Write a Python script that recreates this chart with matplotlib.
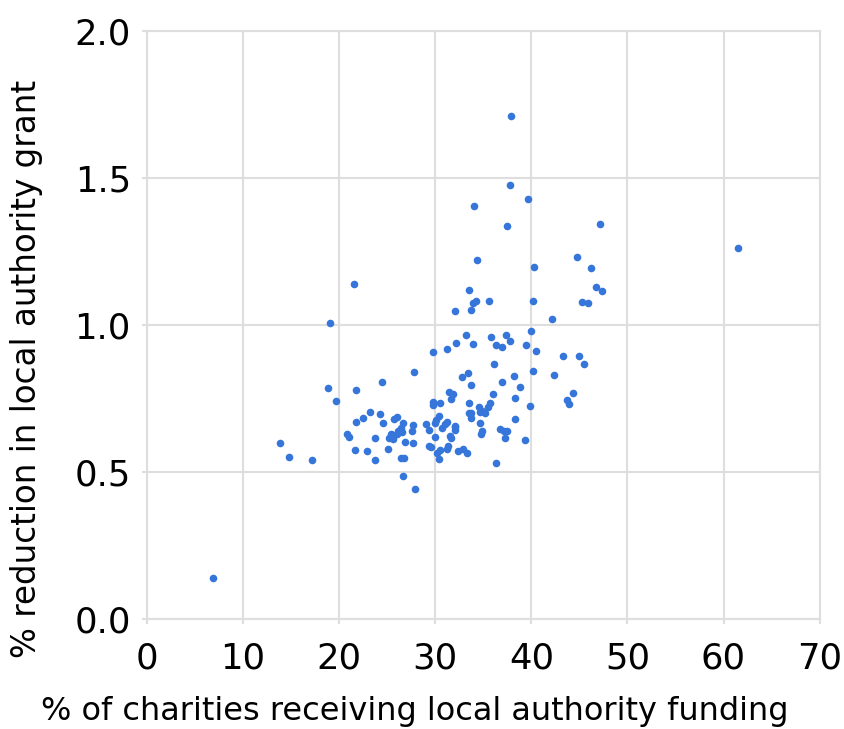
import matplotlib
matplotlib.use("Agg")
import matplotlib.pyplot as plt

# % of charities receiving local authority funding
pct_charities = [
    6.9, 13.8, 14.8, 17.2, 18.8, 19.0, 19.7, 21.5, 21.7, 23.2,
    22.5, 21.7, 20.8, 21.0, 21.6, 22.9, 24.5, 27.8, 24.2, 24.6,
    25.7, 26.0, 26.6, 27.7, 26.4, 26.1, 25.4, 25.2, 25.6, 23.7,
    27.6, 26.8, 27.7, 25.1, 23.7, 26.4, 26.7, 26.6, 27.9, 29.0,
    29.3, 29.3, 29.6, 29.8, 29.8, 29.8, 30.5, 30.4, 30.1, 30.0,
    30.7, 30.0, 30.5, 30.2, 30.4, 31.2, 31.0, 31.4, 31.8, 31.6,
    31.5, 31.6, 31.3, 31.2, 31.2, 32.1, 32.2, 32.1, 32.1, 32.4,
    32.9, 33.3, 32.8, 33.4, 33.7, 33.5, 33.7, 33.5, 33.7, 33.2,
    33.9, 33.5, 33.9, 34.2, 33.7, 34.0, 34.3, 35.6, 35.8, 36.3,
    36.9, 37.4, 37.8, 36.1, 36.0, 35.7, 35.5, 34.6, 34.7, 35.2,
    34.9, 34.7, 34.9, 34.8, 36.7, 37.1, 37.5, 37.3, 39.3, 36.3,
    36.9, 38.2, 38.8, 38.3, 39.9, 38.3, 40.2, 37.9, 37.8, 39.6,
    37.5, 40.2, 40.3, 42.1, 40.0, 39.4, 40.5, 43.3, 45.0, 45.5,
    42.4, 44.3, 43.7, 43.9, 47.1, 44.7, 46.2, 46.7, 47.4, 45.3,
    45.9, 61.5, 25.5, 26.5, 26.0, 32.0,
]
# % reduction in local authority grant
pct_reduction = [
    0.14, 0.60, 0.55, 0.54, 0.785, 1.008, 0.742, 1.14, 0.78, 0.705,
    0.684, 0.671, 0.630, 0.620, 0.575, 0.571, 0.806, 0.839, 0.698, 0.668,
    0.680, 0.686, 0.668, 0.660, 0.649, 0.640, 0.628, 0.615, 0.612, 0.617,
    0.639, 0.603, 0.600, 0.578, 0.541, 0.549, 0.549, 0.485, 0.443, 0.662,
    0.643, 0.588, 0.584, 0.907, 0.737, 0.728, 0.735, 0.690, 0.677, 0.668,
    0.651, 0.620, 0.575, 0.564, 0.543, 0.671, 0.662, 0.773, 0.764, 0.747,
    0.622, 0.615, 0.588, 0.579, 0.919, 1.047, 0.938, 0.653, 0.643, 0.572,
    0.577, 0.566, 0.824, 0.836, 0.795, 0.734, 0.702, 0.700, 0.685, 0.967,
    0.937, 1.118, 1.077, 1.081, 1.050, 1.405, 1.223, 1.081, 0.958, 0.932,
    0.927, 0.967, 0.946, 0.869, 0.764, 0.734, 0.720, 0.722, 0.705, 0.700,
    0.707, 0.668, 0.640, 0.629, 0.646, 0.640, 0.640, 0.615, 0.608, 0.532,
    0.805, 0.827, 0.790, 0.751, 0.726, 0.679, 0.844, 1.713, 1.476, 1.431,
    1.338, 1.081, 1.198, 1.020, 0.979, 0.933, 0.912, 0.895, 0.895, 0.869,
    0.831, 0.768, 0.745, 0.730, 1.343, 1.232, 1.194, 1.131, 1.115, 1.080,
    1.076, 1.262, 0.625, 0.635, 0.630, 0.655,
]

x_ticks = [0, 10, 20, 30, 40, 50, 60, 70]
y_ticks = [0.0, 0.5, 1.0, 1.5, 2.0]

fig = plt.figure(figsize=(8.45, 7.29), dpi=100)
ax = fig.add_axes([0.174, 0.151, 0.796, 0.806])

ax.scatter(pct_charities, pct_reduction, s=30, color='#3675d9', linewidths=0, zorder=3)

ax.set_xlim(0, 70)
ax.set_ylim(0, 2.0)
ax.set_xticks(x_ticks)
ax.set_yticks(y_ticks)
ax.set_yticklabels([f'{v:.1f}' for v in y_ticks])
ax.grid(True, color='#dedede', linewidth=1.5)
ax.set_axisbelow(True)
for side in ['top', 'right', 'left', 'bottom']:
    ax.spines[side].set_color('#dedede')
    ax.spines[side].set_linewidth(1.5)
ax.tick_params(axis='both', length=3.6, width=1.5, color='#dedede', labelsize=25.5)
ax.tick_params(axis='x', pad=13)
ax.tick_params(axis='y', pad=8)

ax.set_xlabel('% of charities receiving local authority funding', fontsize=23)
ax.set_ylabel('% reduction in local authority grant', fontsize=23.5)
ax.xaxis.set_label_coords(0.398, -0.131)
ax.yaxis.set_label_coords(-0.1545, 0.425)

fig.savefig('out.png', dpi=100)
